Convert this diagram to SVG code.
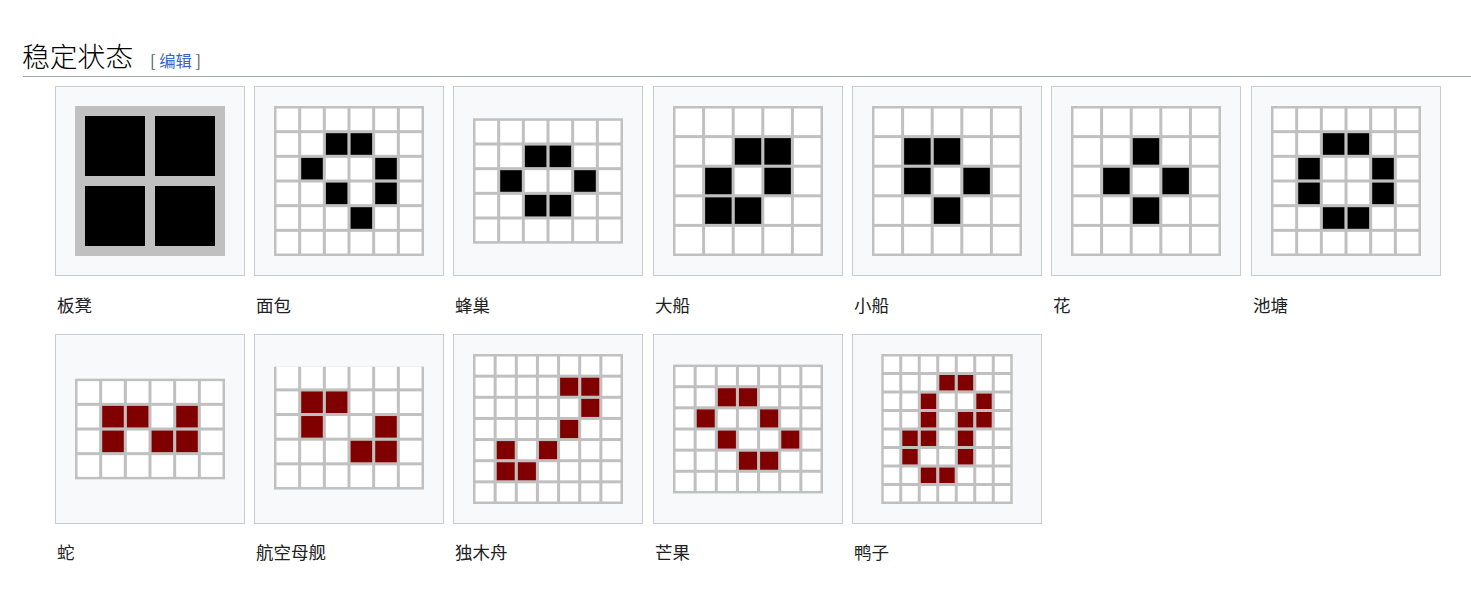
<svg xmlns="http://www.w3.org/2000/svg" width="1471" height="596" viewBox="0 0 1471 596">
<style>
.frame{fill:#f8f9fa;stroke:#c8ccd1;stroke-width:1}
.gl{fill:#c0c0c0}
.wc{fill:#ffffff}
.k{fill:#000000}
.r{fill:#800000}
.lbl{font-family:"Noto Sans CJK SC","Noto Sans",sans-serif;font-size:17.5px;fill:#202122}
.h2{font-family:"Noto Sans CJK SC",sans-serif;font-size:27.8px;font-weight:300;fill:#000000}
.br{font-family:"Noto Sans CJK SC","Liberation Sans",sans-serif;font-size:16.3px;fill:#54595d}
.lnk{fill:#3366cc}
</style>
<defs>
<g id="r6">
<rect class="wc" x="2.5" y="0" width="21.667" height="21.667"/>
<rect class="wc" x="27.167" y="0" width="21.667" height="21.667"/>
<rect class="wc" x="51.833" y="0" width="21.667" height="21.667"/>
<rect class="wc" x="76.5" y="0" width="21.667" height="21.667"/>
<rect class="wc" x="101.167" y="0" width="21.667" height="21.667"/>
<rect class="wc" x="125.833" y="0" width="21.667" height="21.667"/>
</g>
<g id="r5">
<rect class="wc" x="2.5" y="0" width="26.6" height="26.6"/>
<rect class="wc" x="32.1" y="0" width="26.6" height="26.6"/>
<rect class="wc" x="61.7" y="0" width="26.6" height="26.6"/>
<rect class="wc" x="91.3" y="0" width="26.6" height="26.6"/>
<rect class="wc" x="120.9" y="0" width="26.6" height="26.6"/>
</g>
<g id="r7">
<rect class="wc" x="2.5" y="0" width="18.143" height="18.143"/>
<rect class="wc" x="23.643" y="0" width="18.143" height="18.143"/>
<rect class="wc" x="44.786" y="0" width="18.143" height="18.143"/>
<rect class="wc" x="65.929" y="0" width="18.143" height="18.143"/>
<rect class="wc" x="87.071" y="0" width="18.143" height="18.143"/>
<rect class="wc" x="108.214" y="0" width="18.143" height="18.143"/>
<rect class="wc" x="129.357" y="0" width="18.143" height="18.143"/>
</g>
<g id="r7s">
<rect class="wc" x="2.5" y="0" width="15.5" height="15.5"/>
<rect class="wc" x="21" y="0" width="15.5" height="15.5"/>
<rect class="wc" x="39.5" y="0" width="15.5" height="15.5"/>
<rect class="wc" x="58" y="0" width="15.5" height="15.5"/>
<rect class="wc" x="76.5" y="0" width="15.5" height="15.5"/>
<rect class="wc" x="95" y="0" width="15.5" height="15.5"/>
<rect class="wc" x="113.5" y="0" width="15.5" height="15.5"/>
</g>
</defs>
<rect x="0" y="0" width="1471" height="596" fill="#ffffff"/>

<g id="heading">
<text class="h2" x="22" y="67">稳定状态</text>
<text class="br" x="150" y="67">[ <tspan class="lnk">编辑</tspan> ]</text>
<line x1="23" y1="76.5" x2="1471" y2="76.5" stroke="#a2a9b1" stroke-width="1"/>
</g>

<g id="n-bandeng" transform="translate(55,86)">
<rect class="frame" x="0.5" y="0.5" width="189" height="189"/>
<rect class="gl" x="20" y="20" width="150" height="150"/>
<rect class="k" x="30" y="30" width="60" height="60"/>
<rect class="k" x="100" y="30" width="60" height="60"/>
<rect class="k" x="30" y="100" width="60" height="60"/>
<rect class="k" x="100" y="100" width="60" height="60"/>
<text class="lbl" x="2" y="225.5">板凳</text>
</g>

<g id="n-mianbao" transform="translate(254,86)">
<rect class="frame" x="0.5" y="0.5" width="189" height="189"/>
<g transform="translate(20,20)">
<rect class="gl" x="0" y="0" width="150" height="150"/>
<use href="#r6" y="2.5"/><use href="#r6" y="27.167"/><use href="#r6" y="51.833"/><use href="#r6" y="76.5"/><use href="#r6" y="101.167"/><use href="#r6" y="125.833"/>
<rect class="k" x="51.833" y="27.167" width="21.667" height="21.667"/>
<rect class="k" x="76.5" y="27.167" width="21.667" height="21.667"/>
<rect class="k" x="27.167" y="51.833" width="21.667" height="21.667"/>
<rect class="k" x="101.167" y="51.833" width="21.667" height="21.667"/>
<rect class="k" x="51.833" y="76.5" width="21.667" height="21.667"/>
<rect class="k" x="101.167" y="76.5" width="21.667" height="21.667"/>
<rect class="k" x="76.5" y="101.167" width="21.667" height="21.667"/>
</g>
<text class="lbl" x="2" y="225.5">面包</text>
</g>

<g id="n-fengchao" transform="translate(453,86)">
<rect class="frame" x="0.5" y="0.5" width="189" height="189"/>
<g transform="translate(20,32.33)">
<rect class="gl" x="0" y="0" width="150" height="125.33"/>
<use href="#r6" y="2.5"/><use href="#r6" y="27.167"/><use href="#r6" y="51.833"/><use href="#r6" y="76.5"/><use href="#r6" y="101.167"/>
<rect class="k" x="51.833" y="27.167" width="21.667" height="21.667"/>
<rect class="k" x="76.5" y="27.167" width="21.667" height="21.667"/>
<rect class="k" x="27.167" y="51.833" width="21.667" height="21.667"/>
<rect class="k" x="101.167" y="51.833" width="21.667" height="21.667"/>
<rect class="k" x="51.833" y="76.5" width="21.667" height="21.667"/>
<rect class="k" x="76.5" y="76.5" width="21.667" height="21.667"/>
</g>
<text class="lbl" x="2" y="225.5">蜂巢</text>
</g>

<g id="n-dachuan" transform="translate(653,86)">
<rect class="frame" x="0.5" y="0.5" width="189" height="189"/>
<g transform="translate(20,20)">
<rect class="gl" x="0" y="0" width="150" height="150"/>
<use href="#r5" y="2.5"/><use href="#r5" y="32.1"/><use href="#r5" y="61.7"/><use href="#r5" y="91.3"/><use href="#r5" y="120.9"/>
<rect class="k" x="61.7" y="32.1" width="26.6" height="26.6"/>
<rect class="k" x="91.3" y="32.1" width="26.6" height="26.6"/>
<rect class="k" x="32.1" y="61.7" width="26.6" height="26.6"/>
<rect class="k" x="91.3" y="61.7" width="26.6" height="26.6"/>
<rect class="k" x="32.1" y="91.3" width="26.6" height="26.6"/>
<rect class="k" x="61.7" y="91.3" width="26.6" height="26.6"/>
</g>
<text class="lbl" x="2" y="225.5">大船</text>
</g>

<g id="n-xiaochuan" transform="translate(852,86)">
<rect class="frame" x="0.5" y="0.5" width="189" height="189"/>
<g transform="translate(20,20)">
<rect class="gl" x="0" y="0" width="150" height="150"/>
<use href="#r5" y="2.5"/><use href="#r5" y="32.1"/><use href="#r5" y="61.7"/><use href="#r5" y="91.3"/><use href="#r5" y="120.9"/>
<rect class="k" x="32.1" y="32.1" width="26.6" height="26.6"/>
<rect class="k" x="61.7" y="32.1" width="26.6" height="26.6"/>
<rect class="k" x="32.1" y="61.7" width="26.6" height="26.6"/>
<rect class="k" x="91.3" y="61.7" width="26.6" height="26.6"/>
<rect class="k" x="61.7" y="91.3" width="26.6" height="26.6"/>
</g>
<text class="lbl" x="2" y="225.5">小船</text>
</g>

<g id="n-hua" transform="translate(1051,86)">
<rect class="frame" x="0.5" y="0.5" width="189" height="189"/>
<g transform="translate(20,20)">
<rect class="gl" x="0" y="0" width="150" height="150"/>
<use href="#r5" y="2.5"/><use href="#r5" y="32.1"/><use href="#r5" y="61.7"/><use href="#r5" y="91.3"/><use href="#r5" y="120.9"/>
<rect class="k" x="61.7" y="32.1" width="26.6" height="26.6"/>
<rect class="k" x="32.1" y="61.7" width="26.6" height="26.6"/>
<rect class="k" x="91.3" y="61.7" width="26.6" height="26.6"/>
<rect class="k" x="61.7" y="91.3" width="26.6" height="26.6"/>
</g>
<text class="lbl" x="2" y="225.5">花</text>
</g>

<g id="n-chitang" transform="translate(1251,86)">
<rect class="frame" x="0.5" y="0.5" width="189" height="189"/>
<g transform="translate(20,20)">
<rect class="gl" x="0" y="0" width="150" height="150"/>
<use href="#r6" y="2.5"/><use href="#r6" y="27.167"/><use href="#r6" y="51.833"/><use href="#r6" y="76.5"/><use href="#r6" y="101.167"/><use href="#r6" y="125.833"/>
<rect class="k" x="51.833" y="27.167" width="21.667" height="21.667"/>
<rect class="k" x="76.5" y="27.167" width="21.667" height="21.667"/>
<rect class="k" x="27.167" y="51.833" width="21.667" height="21.667"/>
<rect class="k" x="101.167" y="51.833" width="21.667" height="21.667"/>
<rect class="k" x="27.167" y="76.5" width="21.667" height="21.667"/>
<rect class="k" x="101.167" y="76.5" width="21.667" height="21.667"/>
<rect class="k" x="51.833" y="101.167" width="21.667" height="21.667"/>
<rect class="k" x="76.5" y="101.167" width="21.667" height="21.667"/>
</g>
<text class="lbl" x="2" y="225.5">池塘</text>
</g>

<g id="n-she" transform="translate(55,334)">
<rect class="frame" x="0.5" y="0.5" width="189" height="189"/>
<g transform="translate(20,44.67)">
<rect class="gl" x="0" y="0" width="150" height="100.67"/>
<use href="#r6" y="2.5"/><use href="#r6" y="27.167"/><use href="#r6" y="51.833"/><use href="#r6" y="76.5"/>
<rect class="r" x="27.167" y="27.167" width="21.667" height="21.667"/>
<rect class="r" x="51.833" y="27.167" width="21.667" height="21.667"/>
<rect class="r" x="101.167" y="27.167" width="21.667" height="21.667"/>
<rect class="r" x="27.167" y="51.833" width="21.667" height="21.667"/>
<rect class="r" x="76.5" y="51.833" width="21.667" height="21.667"/>
<rect class="r" x="101.167" y="51.833" width="21.667" height="21.667"/>
</g>
<text class="lbl" x="2" y="224.5">蛇</text>
</g>

<g id="n-hangkongmujian" transform="translate(254,334)">
<rect class="frame" x="0.5" y="0.5" width="189" height="189"/>
<g transform="translate(20,32.7)">
<rect class="gl" x="0" y="0" width="150" height="122.83"/>
<use href="#r6" y="0"/><use href="#r6" y="24.667"/><use href="#r6" y="49.333"/><use href="#r6" y="74"/><use href="#r6" y="98.667"/>
<rect class="r" x="27.167" y="24.667" width="21.667" height="21.667"/>
<rect class="r" x="51.833" y="24.667" width="21.667" height="21.667"/>
<rect class="r" x="27.167" y="49.333" width="21.667" height="21.667"/>
<rect class="r" x="101.167" y="49.333" width="21.667" height="21.667"/>
<rect class="r" x="76.5" y="74" width="21.667" height="21.667"/>
<rect class="r" x="101.167" y="74" width="21.667" height="21.667"/>
</g>
<text class="lbl" x="2" y="224.5">航空母舰</text>
</g>

<g id="n-dumuzhou" transform="translate(453,334)">
<rect class="frame" x="0.5" y="0.5" width="189" height="189"/>
<g transform="translate(20,20)">
<rect class="gl" x="0" y="0" width="150" height="150"/>
<use href="#r7" y="2.5"/><use href="#r7" y="23.643"/><use href="#r7" y="44.786"/><use href="#r7" y="65.929"/><use href="#r7" y="87.071"/><use href="#r7" y="108.214"/><use href="#r7" y="129.357"/>
<rect class="r" x="87.071" y="23.643" width="18.143" height="18.143"/>
<rect class="r" x="108.214" y="23.643" width="18.143" height="18.143"/>
<rect class="r" x="108.214" y="44.786" width="18.143" height="18.143"/>
<rect class="r" x="87.071" y="65.929" width="18.143" height="18.143"/>
<rect class="r" x="23.643" y="87.071" width="18.143" height="18.143"/>
<rect class="r" x="65.929" y="87.071" width="18.143" height="18.143"/>
<rect class="r" x="23.643" y="108.214" width="18.143" height="18.143"/>
<rect class="r" x="44.786" y="108.214" width="18.143" height="18.143"/>
</g>
<text class="lbl" x="2" y="224.5">独木舟</text>
</g>

<g id="n-mangguo" transform="translate(653,334)">
<rect class="frame" x="0.5" y="0.5" width="189" height="189"/>
<g transform="translate(20,30.57)">
<rect class="gl" x="0" y="0" width="150" height="128.86"/>
<use href="#r7" y="2.5"/><use href="#r7" y="23.643"/><use href="#r7" y="44.786"/><use href="#r7" y="65.929"/><use href="#r7" y="87.071"/><use href="#r7" y="108.214"/>
<rect class="r" x="44.786" y="23.643" width="18.143" height="18.143"/>
<rect class="r" x="65.929" y="23.643" width="18.143" height="18.143"/>
<rect class="r" x="23.643" y="44.786" width="18.143" height="18.143"/>
<rect class="r" x="87.071" y="44.786" width="18.143" height="18.143"/>
<rect class="r" x="44.786" y="65.929" width="18.143" height="18.143"/>
<rect class="r" x="108.214" y="65.929" width="18.143" height="18.143"/>
<rect class="r" x="65.929" y="87.071" width="18.143" height="18.143"/>
<rect class="r" x="87.071" y="87.071" width="18.143" height="18.143"/>
</g>
<text class="lbl" x="2" y="224.5">芒果</text>
</g>

<g id="n-yazi" transform="translate(852,334)">
<rect class="frame" x="0.5" y="0.5" width="189" height="189"/>
<g transform="translate(29.25,20)">
<rect class="gl" x="0" y="0" width="131.5" height="150"/>
<use href="#r7s" y="2.5"/><use href="#r7s" y="21"/><use href="#r7s" y="39.5"/><use href="#r7s" y="58"/><use href="#r7s" y="76.5"/><use href="#r7s" y="95"/><use href="#r7s" y="113.5"/><use href="#r7s" y="132"/>
<rect class="r" x="58" y="21" width="15.5" height="15.5"/>
<rect class="r" x="76.5" y="21" width="15.5" height="15.5"/>
<rect class="r" x="39.5" y="39.5" width="15.5" height="15.5"/>
<rect class="r" x="95" y="39.5" width="15.5" height="15.5"/>
<rect class="r" x="39.5" y="58" width="15.5" height="15.5"/>
<rect class="r" x="76.5" y="58" width="15.5" height="15.5"/>
<rect class="r" x="95" y="58" width="15.5" height="15.5"/>
<rect class="r" x="21" y="76.5" width="15.5" height="15.5"/>
<rect class="r" x="39.5" y="76.5" width="15.5" height="15.5"/>
<rect class="r" x="76.5" y="76.5" width="15.5" height="15.5"/>
<rect class="r" x="21" y="95" width="15.5" height="15.5"/>
<rect class="r" x="76.5" y="95" width="15.5" height="15.5"/>
<rect class="r" x="39.5" y="113.5" width="15.5" height="15.5"/>
<rect class="r" x="58" y="113.5" width="15.5" height="15.5"/>
</g>
<text class="lbl" x="2" y="224.5">鸭子</text>
</g>
</svg>
